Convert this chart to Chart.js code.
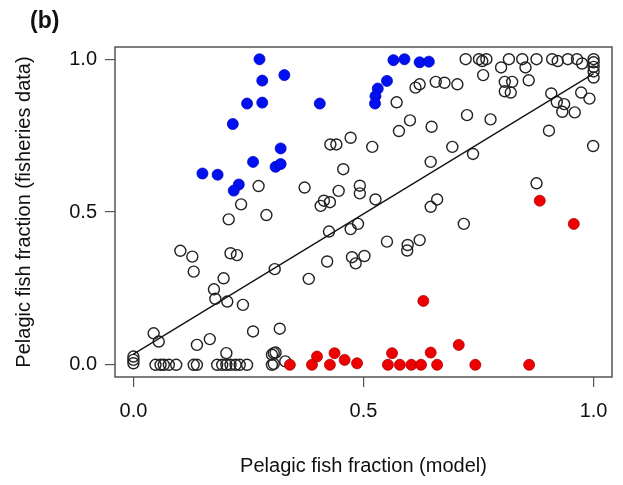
<!DOCTYPE html>
<html>
<head>
  <title>Pelagic fish fraction</title>
  <script src="https://cdn.jsdelivr.net/npm/chart.js"></script>
  <style>
    body { margin: 0; background: #fff; }
    #wrap { width: 623px; height: 485px; position: relative; }
  </style>
</head>
<body>
  <div id="wrap"><canvas id="scatter"></canvas></div>
  <script>
    // model fraction (x) vs fisheries data fraction (y)
    const openX = [0.272, 0.234, 0.613, 0.622, 0.657, 0.676, 0.704, 0.572, 0.601, 0.577, 0.648, 0.472, 0.428, 0.441,
      0.519, 0.456, 0.646, 0.372, 0.446, 0.492, 0.492, 0.526, 0.414, 0.427, 0.407, 0.646, 0.66,
      0.722, 0.751, 0.758, 0.767, 0.816, 0.845, 0.876, 0.91, 0.922, 0.944, 0.964, 0.975,
      1, 1, 1, 1, 1,
      0.799, 0.852, 0.76, 0.807, 0.823, 0.859, 0.807, 0.82,
      0.908, 0.973, 0.991, 0.92, 0.936, 0.932, 0.959, 0.725, 0.776, 0.903, 0.999, 0.693, 0.738, 0.876,
      0.718, 0.425, 0.472, 0.488, 0.551, 0.596, 0.595, 0.622, 0.307, 0.421, 0.475, 0.483, 0.502, 0.381,
      0.318, 0.305, 0.33,
      0.289, 0.207, 0.102, 0.128, 0.211, 0.225, 0.131, 0.196, 0.175, 0.178, 0.204, 0.238, 0.044, 0.055,
      0.166, 0.138, 0.26, 0.202, 0.301, 0.309,
      0, 0, 0,
      0.048, 0.059, 0.066, 0.077, 0.093, 0.131, 0.138, 0.182, 0.193, 0.202, 0.211, 0.222, 0.231, 0.247,
      0.301, 0.305];
    const openY = [0.585, 0.525, 0.907, 0.918, 0.926, 0.923, 0.918, 0.859, 0.8, 0.765, 0.779, 0.743, 0.721, 0.721,
      0.713, 0.64, 0.664, 0.58, 0.569, 0.586, 0.561, 0.541, 0.537, 0.532, 0.52, 0.517, 0.541,
      1.0, 1.0, 0.994, 1.0, 1.0, 1.0, 1.0, 1.0, 0.994, 1.0, 1.0, 0.986,
      1.0, 0.99, 0.975, 0.96, 0.94,
      0.973, 0.973, 0.948, 0.926, 0.926, 0.931, 0.895, 0.891,
      0.888, 0.891, 0.871, 0.86, 0.853, 0.828, 0.826, 0.817, 0.803, 0.766, 0.716, 0.713, 0.69, 0.594,
      0.461, 0.436, 0.444, 0.461, 0.403, 0.392, 0.374, 0.408, 0.313, 0.338, 0.352, 0.332, 0.356, 0.281,
      0.118, 0.038, 0.011,
      0.49, 0.476, 0.373, 0.354, 0.365, 0.359, 0.305, 0.283, 0.247, 0.216, 0.207, 0.196, 0.103, 0.076,
      0.084, 0.065, 0.109, 0.038, 0.033, 0.04,
      0.027, 0.016, 0.005,
      0, 0, 0, 0, 0, 0, 0, 0, 0, 0, 0, 0, 0, 0,
      0, 0.003];

    const blueX = [0.274, 0.28, 0.247, 0.28, 0.216, 0.32, 0.26, 0.309, 0.32, 0.15, 0.183, 0.229, 0.218,
      0.328, 0.405, 0.565, 0.589, 0.622, 0.642, 0.551, 0.531, 0.526, 0.525];
    const blueY = [1.0, 0.93, 0.855, 0.858, 0.788, 0.708, 0.664, 0.648, 0.657, 0.626, 0.622, 0.59, 0.57,
      0.948, 0.855, 0.997, 1.0, 0.99, 0.992, 0.929, 0.904, 0.879, 0.855];

    const redX = [0.883, 0.957, 0.63, 0.707, 0.743, 0.86, 0.34, 0.388, 0.399, 0.427, 0.437, 0.459, 0.486,
      0.553, 0.562, 0.579, 0.604, 0.625, 0.646, 0.66];
    const redY = [0.537, 0.461, 0.209, 0.065, 0, 0, 0, 0, 0.027, 0, 0.038, 0.016, 0.005,
      0, 0.038, 0, 0, 0, 0.04, 0];

    const lineX = [0, 1];
    const lineY = [0.035, 0.953];

    const tickVals = [0, 0.5, 1.0];

    const pts = (xs, ys) => xs.map((x, i) => ({ x: x, y: ys[i] }));
    const font = { family: 'Liberation Sans, Arial, sans-serif', size: 20 };

    // R-style box round the plot area plus the panel tag
    const boxPlugin = {
      id: 'box',
      afterDraw(chart) {
        const { ctx, chartArea: a } = chart;
        ctx.save();
        ctx.strokeStyle = '#555';
        ctx.lineWidth = 1.5;
        ctx.strokeRect(a.left, a.top, a.right - a.left, a.bottom - a.top);
        ctx.fillStyle = '#111';
        ctx.font = 'bold 23px Liberation Sans, Arial, sans-serif';
        ctx.textBaseline = 'middle';
        ctx.fillText('(b)', 30, 22);
        ctx.restore();
      }
    };

    new Chart(document.getElementById('scatter'), {
      type: 'scatter',
      data: {
        datasets: [
          {
            data: pts(blueX, blueY),
            backgroundColor: '#0010f0', borderColor: '#0008c0', borderWidth: 0.8,
            pointRadius: 5.5
          },
          {
            data: pts(redX, redY),
            backgroundColor: '#ee0000', borderColor: '#b00000', borderWidth: 0.8,
            pointRadius: 5.5
          },
          {
            type: 'line',
            data: pts(lineX, lineY),
            borderColor: '#111', borderWidth: 1.3, pointRadius: 0, fill: false
          },
          {
            data: pts(openX, openY),
            backgroundColor: 'rgba(0,0,0,0)', borderColor: '#222', borderWidth: 1.4,
            pointRadius: 5.5
          }
        ]
      },
      options: {
        responsive: true,
        maintainAspectRatio: false,
        animation: false,
        events: [],
        layout: { padding: { top: 47, right: 11, left: 0, bottom: 0 } },
        plugins: { legend: { display: false }, tooltip: { enabled: false } },
        scales: {
          x: {
            type: 'linear', min: -0.04, max: 1.04,
            afterBuildTicks: s => { s.ticks = tickVals.map(v => ({ value: v })); },
            afterFit: s => { s.height = 108; },
            grid: { drawOnChartArea: false, drawTicks: true, tickLength: 10, color: '#555', lineWidth: 1.2 },
            border: { display: false },
            ticks: { color: '#111', font: font, padding: 12, callback: v => v.toFixed(1) },
            title: { display: true, text: 'Pelagic fish fraction (model)', color: '#111', font: font, padding: { top: 0, bottom: 7 } }
          },
          y: {
            type: 'linear', min: -0.04, max: 1.04,
            afterBuildTicks: s => { s.ticks = tickVals.map(v => ({ value: v })); },
            afterFit: s => { s.width = 115; },
            grid: { drawOnChartArea: false, drawTicks: true, tickLength: 10, color: '#555', lineWidth: 1.2 },
            border: { display: false },
            ticks: { color: '#111', font: font, padding: 8, callback: v => v.toFixed(1) },
            title: { display: true, text: 'Pelagic fish fraction (fisheries data)', color: '#111', font: font, padding: { top: 12, bottom: 0 } }
          }
        }
      },
      plugins: [boxPlugin]
    });
  </script>
</body>
</html>
